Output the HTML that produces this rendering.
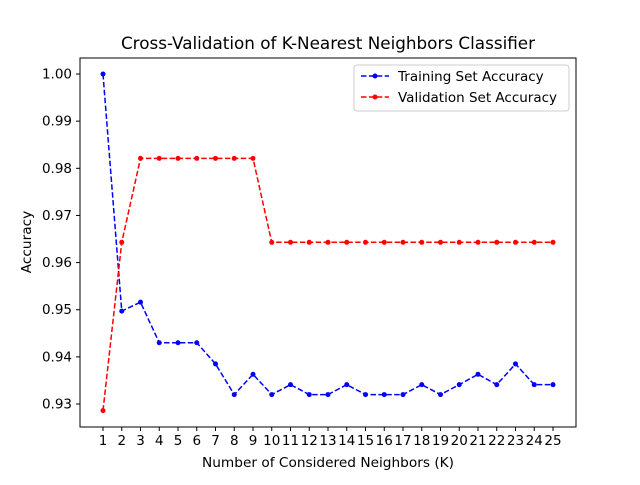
<!DOCTYPE html>
<html><head><meta charset="utf-8"><style>
body{margin:0;background:#fff;}
text{font-family:"DejaVu Sans","Liberation Sans",sans-serif;fill:#000;}
</style></head><body>
<svg id="chart" width="640" height="480" xmlns="http://www.w3.org/2000/svg">
<rect width="640" height="480" fill="#fff"/>
<text x="328" y="49" font-size="16.8" text-anchor="middle">Cross-Validation of K-Nearest Neighbors Classifier</text>
<g id="plot"></g>
<rect x="80" y="58" width="496" height="369" fill="none" stroke="#000" stroke-width="1"/>
<text x="328" y="467" font-size="13.7" text-anchor="middle">Number of Considered Neighbors (K)</text>
<text transform="translate(31,242) rotate(-90)" font-size="13.7" text-anchor="middle">Accuracy</text>
<g>
<rect x="354" y="65" width="215" height="46" fill="#fff" stroke="#ccc" rx="3"/>
<line x1="361" y1="76" x2="389" y2="76" stroke="#0000ff" stroke-width="1.5" stroke-dasharray="5.5,2.4"/>
<circle cx="375" cy="76" r="2.5" fill="#0000ff"/>
<text x="398" y="81" font-size="13.5">Training Set Accuracy</text>
<line x1="361" y1="97" x2="389" y2="97" stroke="#ff0000" stroke-width="1.5" stroke-dasharray="5.5,2.4"/>
<circle cx="375" cy="97" r="2.5" fill="#ff0000"/>
<text x="398" y="102" font-size="13.5">Validation Set Accuracy</text>
</g>
</svg>
<script>
const kValues=[1,2,3,4,5,6,7,8,9,10,11,12,13,14,15,16,17,18,19,20,21,22,23,24,25];
const trainAcc=[1.0,0.9497,0.9516,0.943,0.943,0.943,0.9385,0.932,0.9363,0.932,0.9341,0.932,0.932,0.9341,0.932,0.932,0.932,0.9341,0.932,0.9341,0.9363,0.9341,0.9385,0.9341,0.9341];
const valAcc=[0.9286,0.9643,0.9821,0.9821,0.9821,0.9821,0.9821,0.9821,0.9821,0.9643,0.9643,0.9643,0.9643,0.9643,0.9643,0.9643,0.9643,0.9643,0.9643,0.9643,0.9643,0.9643,0.9643,0.9643,0.9643];
const yTicks=[0.93,0.94,0.95,0.96,0.97,0.98,0.99,1.00];
const NS="http://www.w3.org/2000/svg";
const g=document.getElementById('plot');
function xs(k){return 103+(k-1)*18.75;}
function ys(v){return 404-(v-0.93)*4714;}
function mk(t,a){const e=document.createElementNS(NS,t);for(const k in a)e.setAttribute(k,a[k]);g.appendChild(e);return e;}
yTicks.forEach(v=>{
  const l=mk('line',{x1:76,x2:80,y1:ys(v),y2:ys(v),stroke:'#000'});
  
  
  const t=mk('text',{x:72,y:ys(v)+4.5,'font-size':13.5,'text-anchor':'end'});
  t.textContent=v.toFixed(2);
  
  
});
kValues.forEach(k=>{
  const l=mk('line',{x1:xs(k),x2:xs(k),y1:427,y2:431,stroke:'#000'});
  
  
  const t=mk('text',{x:xs(k),y:445,'font-size':13.5,'text-anchor':'middle'});
  t.textContent=k;
  
  
});
function series(vals,color,name){
  const p=mk('polyline',{points:vals.map((v,i)=>xs(kValues[i])+','+ys(v)).join(' '),fill:'none',stroke:color,'stroke-width':1.5,'stroke-dasharray':'5.5,2.4'});
  
  
  vals.forEach((v,i)=>{
    const c=mk('circle',{cx:xs(kValues[i]),cy:ys(v),r:2.5,fill:color});
    
    
  });
}
series(trainAcc,'#0000ff','training');
series(valAcc,'#ff0000','validation');
</script>
</body></html>
